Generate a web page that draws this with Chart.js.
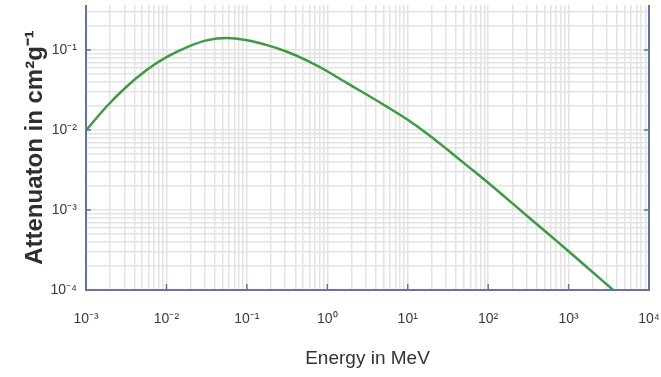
<!DOCTYPE html>
<html>
<head>
<meta charset="utf-8">
<script src="https://cdn.jsdelivr.net/npm/chart.js@4"></script>
<style>
html,body{margin:0;padding:0;background:#fff;}
#wrap{width:661px;height:377px;position:relative;}
</style>
</head>
<body>
<div id="wrap"><canvas id="c" width="661" height="377"></canvas></div>
<script>
const energyMeV = [0.001, 0.00178, 0.00316, 0.00562, 0.01, 0.0178, 0.0316, 0.0562, 0.1, 0.178, 0.316, 0.562, 1, 1.78, 3.16, 5.62, 10, 17.8, 31.6, 56.2, 100, 178, 316, 562, 1000, 1780, 3590];
const attenuation = [0.0099, 0.0194, 0.0345, 0.0559, 0.0813, 0.108, 0.132, 0.141, 0.132, 0.115, 0.0951, 0.0737, 0.0543, 0.0382, 0.0274, 0.0193, 0.0134, 0.00885, 0.00562, 0.00351, 0.00219, 0.00134, 0.000818, 0.000501, 0.000305, 0.000184, 0.0001];
const xTickLabels = ['10\u207B\u00B3','10\u207B\u00B2','10\u207B\u00B9','10\u2070','10\u00B9','10\u00B2','10\u00B3','10\u2074'];
const xDecades = [-3,-2,-1,0,1,2,3,4];
const yTickLabels = ['10\u207B\u2074','10\u207B\u00B3','10\u207B\u00B2','10\u207B\u00B9'];
const yDecades = [-4,-3,-2,-1];
const xTitle = 'Energy in MeV';
const yTitle = 'Attenuaton in cm\u00B2g\u207B\u00B9';

const axisColor = '#6473a3';
const gridColor = '#e3e3e3';

function allLogTicks(min, max) {
  const out = [];
  for (let e = Math.floor(Math.log10(min)); e <= Math.ceil(Math.log10(max)); e++) {
    for (let m = 1; m <= 9; m++) {
      const v = m * Math.pow(10, e);
      if (v >= min * 0.9999 && v <= max * 1.0001) out.push({value: v});
    }
  }
  return out;
}
function labelFor(value, decades, labels) {
  const e = Math.round(Math.log10(value));
  if (Math.abs(Math.log10(value) - e) > 1e-6) return '';
  const i = decades.indexOf(e);
  return i >= 0 ? labels[i] : '';
}

const axisPlugin = {
  id: 'axisMarks',
  afterDatasetsDraw(chart) {
    const {ctx, chartArea: a, scales: {x, y}} = chart;
    ctx.save();
    ctx.strokeStyle = axisColor;
    ctx.lineWidth = 2;
    ctx.beginPath();
    ctx.moveTo(a.left, a.top); ctx.lineTo(a.left, a.bottom); ctx.lineTo(a.right, a.bottom); ctx.lineTo(a.right, a.top);
    ctx.stroke();
    ctx.lineWidth = 1.5;
    ctx.beginPath();
    xDecades.forEach(e => {
      const px = x.getPixelForValue(Math.pow(10, e));
      if (px > a.left + 2 && px < a.right - 2) { ctx.moveTo(px, a.bottom); ctx.lineTo(px, a.bottom - 6); }
    });
    yDecades.forEach(e => {
      const py = y.getPixelForValue(Math.pow(10, e));
      if (py < a.bottom - 2 && py > a.top) {
        ctx.moveTo(a.left, py); ctx.lineTo(a.left + 5, py);
        ctx.moveTo(a.right, py); ctx.lineTo(a.right - 5, py);
      }
    });
    ctx.stroke();
    ctx.restore();
  }
};

const tickFont = {family: '"Liberation Sans", Arial, sans-serif', size: 14};

new Chart(document.getElementById('c'), {
  type: 'line',
  data: {
    datasets: [{
      data: energyMeV.map((e, i) => ({x: e, y: attenuation[i]})),
      borderColor: '#3d9a45',
      borderWidth: 2.5,
      pointRadius: 0,
      tension: 0.3,
      fill: false
    }]
  },
  options: {
    responsive: false,
    animation: false,
    devicePixelRatio: 1,
    layout: {padding: {left: 0, right: 12, top: 5, bottom: 0}},
    plugins: {legend: {display: false}, tooltip: {enabled: false}},
    scales: {
      x: {
        type: 'logarithmic',
        min: 1e-3, max: 1e4,
        afterBuildTicks: s => { s.ticks = allLogTicks(1e-3, 1e4); },
        afterFit: s => { s.height = 87; s.paddingLeft = 0; s.paddingRight = 0; },
        grid: {color: gridColor, lineWidth: 1.5, drawTicks: false},
        border: {display: false},
        ticks: {
          autoSkip: false, maxRotation: 0, padding: 21,
          color: '#3a3a3a', font: tickFont,
          callback: v => labelFor(v, xDecades, xTickLabels)
        },
        title: {
          display: true, text: xTitle, color: '#333',
          font: {family: '"Liberation Sans", Arial, sans-serif', size: 19},
          padding: {top: 0, bottom: 7}
        }
      },
      y: {
        type: 'logarithmic',
        min: 1e-4, max: Math.pow(10, -0.4375),
        afterBuildTicks: s => { s.ticks = allLogTicks(1e-4, Math.pow(10, -0.4375)); },
        afterFit: s => { s.width = 86; s.paddingTop = 0; s.paddingBottom = 0; },
        grid: {color: gridColor, lineWidth: 1.5, drawTicks: false},
        border: {display: false},
        ticks: {
          autoSkip: false, padding: 9,
          color: '#3a3a3a', font: tickFont,
          callback: v => labelFor(v, yDecades, yTickLabels)
        },
        title: {
          display: true, text: yTitle, color: '#2e2e2e',
          font: {family: '"Liberation Sans", Arial, sans-serif', size: 24, weight: 'bold'},
          padding: {top: 21, bottom: 0}
        }
      }
    }
  },
  plugins: [axisPlugin]
});
</script>
</body>
</html>
